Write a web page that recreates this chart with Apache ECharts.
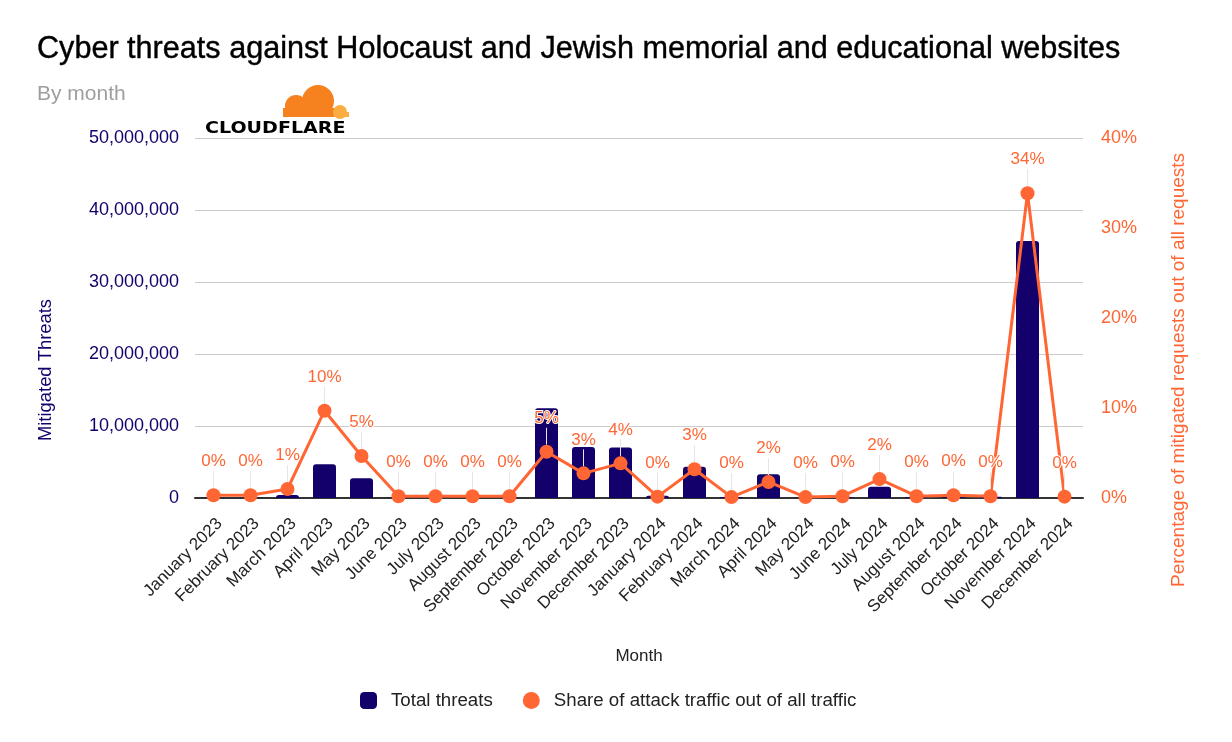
<!DOCTYPE html>
<html><head><meta charset="utf-8">
<script src="https://cdn.jsdelivr.net/npm/echarts@6/dist/echarts.min.js"></script>
<style>html,body{margin:0;padding:0;background:#fff}#c{width:1232px;height:742px}</style>
</head><body><div id="c"></div>
<script>
const months = ["January 2023","February 2023","March 2023","April 2023","May 2023","June 2023","July 2023","August 2023","September 2023","October 2023","November 2023","December 2023","January 2024","February 2024","March 2024","April 2024","May 2024","June 2024","July 2024","August 2024","September 2024","October 2024","November 2024","December 2024"];
const totalThreats = [30000,30000,400000,4700000,2750000,20000,20000,20000,20000,12450000,7100000,7000000,300000,4350000,150000,3300000,50000,100000,1570000,100000,100000,180000,35700000,0];
const attackShare = [0.3,0.3,1.0,9.7,4.67,0.2,0.2,0.2,0.2,5.14,2.74,3.85,0.15,3.19,0.1,1.78,0.1,0.2,2.1,0.2,0.3,0.2,33.86,0.15];
const leftTicks = {min:0,max:50000000,interval:10000000};
const rightTicks = {min:0,max:40,interval:10};

const NAVY = '#14006b', ORANGE = '#ff6633', FONT = '"Liberation Sans", Arial, sans-serif';
const chart = echarts.init(document.getElementById('c'));
chart.setOption({
  animation:false,
  textStyle:{fontFamily:FONT},
  title:[
    {text:'Cyber threats against Holocaust and Jewish memorial and educational websites',left:32,top:29,
     textStyle:{fontFamily:FONT,fontWeight:'normal',fontSize:30.6,color:'#000',textBorderColor:'#000',textBorderWidth:0.4}},
    {text:'By month',left:32,top:79,textStyle:{fontFamily:FONT,fontWeight:'normal',fontSize:21,color:'#9e9e9e'}}
  ],
  graphic:[
    {type:'circle',shape:{cx:318,cy:101,r:16},style:{fill:'#f6821f'}},
    {type:'circle',shape:{cx:296,cy:106,r:11},style:{fill:'#f6821f'}},
    {type:'rect',shape:{x:283,y:108,width:52,height:9},style:{fill:'#f6821f'}},
    {type:'circle',shape:{cx:340,cy:112,r:7},style:{fill:'#fbad41'}},
    {type:'rect',shape:{x:334,y:112,width:15,height:5},style:{fill:'#fbad41'}},
    {type:'text',x:205,y:121,scaleX:1.19,style:{text:'CLOUDFLARE',font:'bold 16px "DejaVu Sans"',fill:'#000'}}
  ],
  legend:{bottom:27,left:355,itemGap:30,itemWidth:17,itemHeight:17,
    textStyle:{fontSize:18.7,color:'#222',fontFamily:FONT,padding:[0,0,0,9]},
    data:[{name:'Total threats',icon:'roundRect'},{name:'Share of attack traffic out of all traffic',icon:'circle'}]},
  grid:{left:195,right:149,top:138,bottom:244},
  xAxis:{type:'category',data:months,name:'Month',nameLocation:'middle',nameGap:150,
    nameTextStyle:{fontSize:17,color:'#222'},
    axisLine:{lineStyle:{color:'#333',width:2}},axisTick:{show:false},
    axisLabel:{rotate:45,fontSize:17,color:'#222',interval:0,margin:17,verticalAlign:'top'}},
  yAxis:[
    {type:'value',...leftTicks,name:'Mitigated Threats',nameLocation:'middle',nameGap:140,
     nameTextStyle:{fontSize:18.4,color:NAVY,padding:[0,104,0,0]},
     axisLabel:{fontSize:18,color:NAVY,margin:16,formatter:v=>v.toLocaleString('en-US')},
     splitLine:{lineStyle:{color:'#cccccc',width:1}},axisLine:{show:false},axisTick:{show:false}},
    {type:'value',...rightTicks,position:'right',name:'Percentage of mitigated requests out of all requests',
     nameLocation:'middle',nameGap:86,nameTextStyle:{fontSize:19,color:ORANGE,padding:[0,104,0,0]},
     axisLabel:{fontSize:18,color:ORANGE,margin:18,formatter:'{value}%'},
     splitLine:{show:false},axisLine:{show:false},axisTick:{show:false}}
  ],
  series:[
    {name:'Total threats',type:'bar',data:totalThreats,yAxisIndex:0,barWidth:23,
     itemStyle:{color:NAVY,borderRadius:[3,3,0,0]}},
    {name:'Share of attack traffic out of all traffic',type:'line',data:attackShare,yAxisIndex:1,
     symbol:'circle',symbolSize:14,lineStyle:{color:ORANGE,width:3},itemStyle:{color:ORANGE},
     label:{show:true,position:'top',distance:6,fontSize:17,color:ORANGE,
       textBorderColor:'#fff',textBorderWidth:2,formatter:p=>Math.round(p.value)+'%'},
     labelLayout:{dy:-12},
     labelLine:{show:true,lineStyle:{color:'#e6e6e6',width:1}}}
  ]
});
</script></body></html>
